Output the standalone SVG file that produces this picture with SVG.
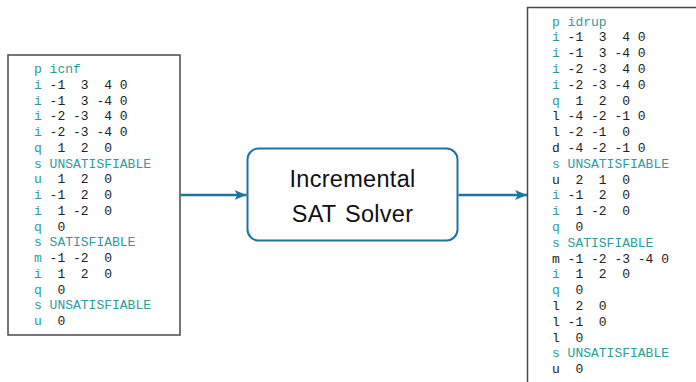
<svg xmlns="http://www.w3.org/2000/svg" width="696" height="382" viewBox="0 0 696 382">
  <defs>
    <marker id="arrowhead" viewBox="0 0 12 10" refX="12" refY="5" markerWidth="12" markerHeight="10" markerUnits="userSpaceOnUse" orient="auto">
      <path d="M0,0 L12,5 L0,10 L3,5 Z" fill="#1a75a0"/>
    </marker>
  </defs>
  <style>
    .frame { fill: #ffffff; stroke: #4a4a4a; stroke-width: 1.5; }
    .solver { fill: #ffffff; stroke: #1a75a0; stroke-width: 2; }
    .code text { font-family: "Liberation Mono", "DejaVu Sans Mono", monospace; font-size: 13px; fill: #222222; }
    .code .k { fill: #2a9d9d; }
    .label { font-family: "Liberation Sans", Arial, sans-serif; font-size: 23.5px; letter-spacing: 0.3px; word-spacing: 2px; fill: #111111; text-anchor: middle; }
    .edge { stroke: #1a75a0; stroke-width: 2.5; fill: none; marker-end: url(#arrowhead); }
  </style>
  <rect width="696" height="382" fill="#ffffff"/>

  <!-- incremental CNF input -->
  <g id="icnf" class="code">
    <rect class="frame" x="8" y="55" width="172" height="280"/>
    <text xml:space="preserve" x="34" y="73"><tspan class="k">p icnf</tspan></text>
    <text xml:space="preserve" x="34" y="88.75"><tspan class="k">i</tspan> -1  3  4 0</text>
    <text xml:space="preserve" x="34" y="104.5"><tspan class="k">i</tspan> -1  3 -4 0</text>
    <text xml:space="preserve" x="34" y="120.25"><tspan class="k">i</tspan> -2 -3  4 0</text>
    <text xml:space="preserve" x="34" y="136"><tspan class="k">i</tspan> -2 -3 -4 0</text>
    <text xml:space="preserve" x="34" y="151.75"><tspan class="k">q</tspan>  1  2  0</text>
    <text xml:space="preserve" x="34" y="167.5"><tspan class="k">s UNSATISFIABLE</tspan></text>
    <text xml:space="preserve" x="34" y="183.25"><tspan class="k">u</tspan>  1  2  0</text>
    <text xml:space="preserve" x="34" y="199"><tspan class="k">i</tspan> -1  2  0</text>
    <text xml:space="preserve" x="34" y="214.75"><tspan class="k">i</tspan>  1 -2  0</text>
    <text xml:space="preserve" x="34" y="230.5"><tspan class="k">q</tspan>  0</text>
    <text xml:space="preserve" x="34" y="246.25"><tspan class="k">s SATISFIABLE</tspan></text>
    <text xml:space="preserve" x="34" y="262"><tspan class="k">m</tspan> -1 -2  0</text>
    <text xml:space="preserve" x="34" y="277.75"><tspan class="k">i</tspan>  1  2  0</text>
    <text xml:space="preserve" x="34" y="293.5"><tspan class="k">q</tspan>  0</text>
    <text xml:space="preserve" x="34" y="309.25"><tspan class="k">s UNSATISFIABLE</tspan></text>
    <text xml:space="preserve" x="34" y="325"><tspan class="k">u</tspan>  0</text>
  </g>

  <!-- solver -->
  <g id="solver">
    <rect class="solver" x="247.5" y="148.5" width="210" height="92" rx="11" ry="11"/>
    <text class="label" x="352.5" y="187">Incremental</text>
    <text class="label" x="352.5" y="221.5">SAT Solver</text>
  </g>

  <!-- IDRUP proof output -->
  <g id="idrup" class="code">
    <rect class="frame" x="527.5" y="7.5" width="180" height="390"/>
    <text xml:space="preserve" x="552" y="25.5"><tspan class="k">p idrup</tspan></text>
    <text xml:space="preserve" x="552" y="41.3"><tspan class="k">i</tspan> -1  3  4 0</text>
    <text xml:space="preserve" x="552" y="57.1"><tspan class="k">i</tspan> -1  3 -4 0</text>
    <text xml:space="preserve" x="552" y="72.9"><tspan class="k">i</tspan> -2 -3  4 0</text>
    <text xml:space="preserve" x="552" y="88.7"><tspan class="k">i</tspan> -2 -3 -4 0</text>
    <text xml:space="preserve" x="552" y="104.5"><tspan class="k">q</tspan>  1  2  0</text>
    <text xml:space="preserve" x="552" y="120.3">l -4 -2 -1 0</text>
    <text xml:space="preserve" x="552" y="136.1">l -2 -1  0</text>
    <text xml:space="preserve" x="552" y="151.9">d -4 -2 -1 0</text>
    <text xml:space="preserve" x="552" y="167.7"><tspan class="k">s UNSATISFIABLE</tspan></text>
    <text xml:space="preserve" x="552" y="183.5">u  2  1  0</text>
    <text xml:space="preserve" x="552" y="199.3"><tspan class="k">i</tspan> -1  2  0</text>
    <text xml:space="preserve" x="552" y="215.1"><tspan class="k">i</tspan>  1 -2  0</text>
    <text xml:space="preserve" x="552" y="230.9"><tspan class="k">q</tspan>  0</text>
    <text xml:space="preserve" x="552" y="246.7"><tspan class="k">s SATISFIABLE</tspan></text>
    <text xml:space="preserve" x="552" y="262.5">m -1 -2 -3 -4 0</text>
    <text xml:space="preserve" x="552" y="278.3"><tspan class="k">i</tspan>  1  2  0</text>
    <text xml:space="preserve" x="552" y="294.1"><tspan class="k">q</tspan>  0</text>
    <text xml:space="preserve" x="552" y="309.9">l  2  0</text>
    <text xml:space="preserve" x="552" y="325.7">l -1  0</text>
    <text xml:space="preserve" x="552" y="341.5">l  0</text>
    <text xml:space="preserve" x="552" y="357.3"><tspan class="k">s UNSATISFIABLE</tspan></text>
    <text xml:space="preserve" x="552" y="373.1">u  0</text>
  </g>

  <!-- connectors -->
  <g id="connectors">
    <line class="edge" x1="180.5" y1="195" x2="246.5" y2="195"/>
    <line class="edge" x1="458.5" y1="195" x2="527" y2="195"/>
  </g>
</svg>
